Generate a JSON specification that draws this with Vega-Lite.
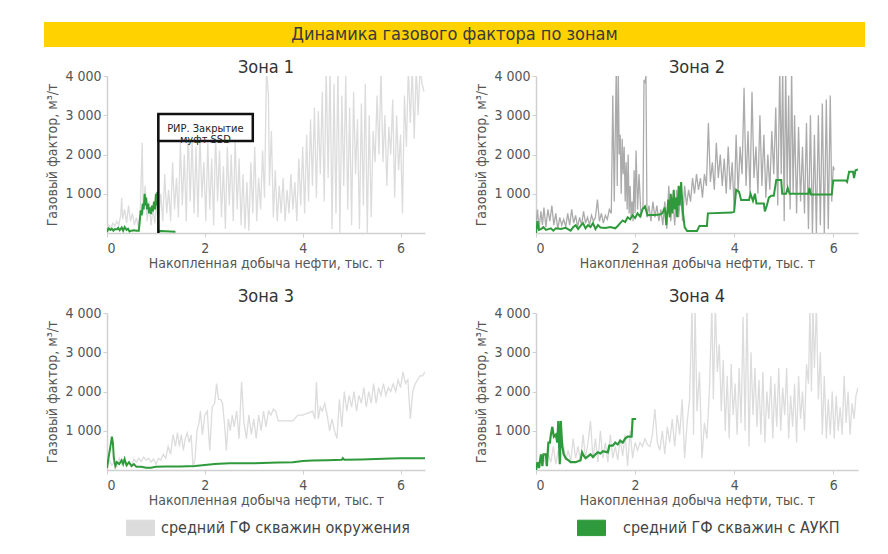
{
"$schema":"https://vega.github.io/schema/vega-lite/v6.json",
"background":"white",
"padding":{"left":44,"top":22,"right":5,"bottom":5},
"config":{
 "font":"DejaVu Sans Condensed, Roboto, sans-serif",
 "view":{"stroke":null},
 "axis":{"grid":false,"labelFontSize":14,"labelColor":"#555","titleFontSize":14,"titleFontWeight":"normal","titleColor":"#555","tickColor":"#d0d0d0","domainColor":"#d0d0d0","tickSize":4,"domainWidth":1.5,"labelPadding":2},
 "axisX":{"titlePadding":1,"labelPadding":4},
 "axisY":{"titlePadding":5},
 "title":{"fontSize":18,"fontWeight":"normal","color":"#333","frame":"group","offset":-8},
 "legend":{"orient":"none","legendX":82,"legendY":491,"direction":"horizontal","title":null,"labelFontSize":16,"labelColor":"#444","labelOffset":17,"columnPadding":165,"labelLimit":400,"symbolType":"M-1,-0.55H1V0.55H-1Z","symbolSize":784,"symbolStrokeWidth":1}
},
"datasets":{
"z1o":[{"x":0,"y":150},{"x":0.04,"y":200},{"x":0.08,"y":120},{"x":0.12,"y":250},{"x":0.16,"y":180},{"x":0.2,"y":300},{"x":0.24,"y":200},{"x":0.28,"y":450},{"x":0.3,"y":900},{"x":0.32,"y":350},{"x":0.36,"y":600},{"x":0.4,"y":250},{"x":0.44,"y":700},{"x":0.48,"y":300},{"x":0.52,"y":500},{"x":0.56,"y":200},{"x":0.6,"y":400},{"x":0.64,"y":150},{"x":0.68,"y":600},{"x":0.72,"y":2300},{"x":0.74,"y":500},{"x":0.78,"y":1200},{"x":0.82,"y":300},{"x":0.86,"y":800},{"x":0.9,"y":200},{"x":0.94,"y":600},{"x":0.98,"y":250},{"x":1.02,"y":900},{"x":1.06,"y":400},{"x":1.1,"y":1000},{"x":1.14,"y":300},{"x":1.18,"y":1500},{"x":1.22,"y":500},{"x":1.26,"y":1100},{"x":1.3,"y":300},{"x":1.34,"y":1800},{"x":1.38,"y":600},{"x":1.42,"y":1400},{"x":1.46,"y":400},{"x":1.5,"y":2300},{"x":1.54,"y":700},{"x":1.58,"y":2000},{"x":1.62,"y":300},{"x":1.66,"y":2600},{"x":1.7,"y":800},{"x":1.74,"y":2400},{"x":1.78,"y":500},{"x":1.82,"y":2200},{"x":1.86,"y":400},{"x":1.9,"y":2500},{"x":1.94,"y":900},{"x":1.98,"y":1800},{"x":2.02,"y":300},{"x":2.06,"y":2300},{"x":2.1,"y":600},{"x":2.14,"y":1900},{"x":2.18,"y":200},{"x":2.22,"y":2500},{"x":2.26,"y":800},{"x":2.3,"y":2100},{"x":2.34,"y":400},{"x":2.38,"y":1700},{"x":2.42,"y":100},{"x":2.46,"y":2200},{"x":2.5,"y":700},{"x":2.54,"y":2000},{"x":2.58,"y":300},{"x":2.62,"y":2400},{"x":2.66,"y":600},{"x":2.7,"y":1900},{"x":2.74,"y":200},{"x":2.78,"y":1500},{"x":2.82,"y":100},{"x":2.86,"y":1300},{"x":2.9,"y":50},{"x":2.94,"y":1800},{"x":2.98,"y":500},{"x":3.02,"y":2200},{"x":3.06,"y":300},{"x":3.1,"y":1400},{"x":3.14,"y":600},{"x":3.18,"y":2100},{"x":3.22,"y":900},{"x":3.26,"y":4200},{"x":3.3,"y":3500},{"x":3.32,"y":1200},{"x":3.36,"y":2600},{"x":3.4,"y":400},{"x":3.44,"y":1600},{"x":3.48,"y":300},{"x":3.52,"y":1200},{"x":3.56,"y":500},{"x":3.6,"y":1400},{"x":3.64,"y":300},{"x":3.68,"y":1100},{"x":3.72,"y":500},{"x":3.76,"y":1500},{"x":3.8,"y":600},{"x":3.84,"y":1300},{"x":3.88,"y":300},{"x":3.92,"y":1900},{"x":3.96,"y":700},{"x":4.0,"y":2200},{"x":4.04,"y":500},{"x":4.08,"y":2500},{"x":4.12,"y":800},{"x":4.16,"y":2900},{"x":4.2,"y":1200},{"x":4.24,"y":3200},{"x":4.28,"y":900},{"x":4.32,"y":3100},{"x":4.36,"y":1500},{"x":4.4,"y":3600},{"x":4.44,"y":800},{"x":4.48,"y":4200},{"x":4.52,"y":1400},{"x":4.56,"y":4200},{"x":4.6,"y":100},{"x":4.64,"y":3800},{"x":4.68,"y":500},{"x":4.72,"y":4200},{"x":4.76,"y":0},{"x":4.8,"y":3500},{"x":4.84,"y":1200},{"x":4.88,"y":4000},{"x":4.92,"y":600},{"x":4.96,"y":3200},{"x":5.0,"y":200},{"x":5.04,"y":3600},{"x":5.08,"y":1500},{"x":5.12,"y":2900},{"x":5.16,"y":100},{"x":5.2,"y":3300},{"x":5.24,"y":700},{"x":5.28,"y":3800},{"x":5.32,"y":0},{"x":5.36,"y":3000},{"x":5.4,"y":400},{"x":5.44,"y":2600},{"x":5.48,"y":1800},{"x":5.52,"y":3500},{"x":5.56,"y":2000},{"x":5.6,"y":4200},{"x":5.64,"y":1800},{"x":5.68,"y":3000},{"x":5.72,"y":1200},{"x":5.76,"y":2700},{"x":5.8,"y":2000},{"x":5.84,"y":3400},{"x":5.88,"y":900},{"x":5.92,"y":3000},{"x":5.96,"y":1600},{"x":6.0,"y":2500},{"x":6.04,"y":500},{"x":6.08,"y":3500},{"x":6.12,"y":2200},{"x":6.16,"y":4200},{"x":6.2,"y":2800},{"x":6.24,"y":4200},{"x":6.28,"y":2400},{"x":6.32,"y":4200},{"x":6.36,"y":3000},{"x":6.4,"y":4200},{"x":6.44,"y":3800},{"x":6.48,"y":3600}],
"z1a":[{"x":0,"y":30},{"x":0.03,"y":120},{"x":0.07,"y":80},{"x":0.1,"y":110},{"x":0.13,"y":60},{"x":0.16,"y":100},{"x":0.2,"y":90},{"x":0.23,"y":130},{"x":0.26,"y":70},{"x":0.3,"y":140},{"x":0.33,"y":60},{"x":0.36,"y":150},{"x":0.4,"y":80},{"x":0.43,"y":110},{"x":0.46,"y":40},{"x":0.5,"y":60},{"x":0.55,"y":70},{"x":0.6,"y":60},{"x":0.65,"y":60},{"x":0.67,"y":300},{"x":0.69,"y":580},{"x":0.71,"y":450},{"x":0.73,"y":750},{"x":0.75,"y":600},{"x":0.77,"y":1000},{"x":0.79,"y":700},{"x":0.8,"y":900},{"x":0.82,"y":600},{"x":0.84,"y":750},{"x":0.86,"y":500},{"x":0.88,"y":650},{"x":0.9,"y":480},{"x":0.92,"y":700},{"x":0.94,"y":550},{"x":0.96,"y":800},{"x":0.98,"y":600},{"x":1.0,"y":1000},{"x":1.02,"y":700},{"x":1.03,"y":1050},{"x":1.05,"y":40},{"x":1.1,"y":50},{"x":1.2,"y":45},{"x":1.3,"y":40},{"x":1.4,"y":35}],
"z2o":[{"x":0,"y":200},{"x":0.03,"y":600},{"x":0.06,"y":100},{"x":0.1,"y":550},{"x":0.13,"y":200},{"x":0.16,"y":650},{"x":0.2,"y":150},{"x":0.24,"y":600},{"x":0.28,"y":300},{"x":0.32,"y":700},{"x":0.36,"y":200},{"x":0.4,"y":500},{"x":0.44,"y":100},{"x":0.48,"y":400},{"x":0.52,"y":200},{"x":0.56,"y":350},{"x":0.6,"y":150},{"x":0.64,"y":500},{"x":0.68,"y":200},{"x":0.72,"y":600},{"x":0.76,"y":250},{"x":0.8,"y":450},{"x":0.84,"y":150},{"x":0.88,"y":400},{"x":0.92,"y":200},{"x":0.96,"y":550},{"x":1.0,"y":250},{"x":1.04,"y":400},{"x":1.08,"y":200},{"x":1.12,"y":450},{"x":1.16,"y":300},{"x":1.2,"y":400},{"x":1.24,"y":850},{"x":1.28,"y":300},{"x":1.32,"y":500},{"x":1.36,"y":250},{"x":1.4,"y":450},{"x":1.44,"y":350},{"x":1.48,"y":600},{"x":1.52,"y":500},{"x":1.55,"y":3500},{"x":1.58,"y":800},{"x":1.62,"y":4200},{"x":1.64,"y":1200},{"x":1.66,"y":4200},{"x":1.68,"y":2000},{"x":1.7,"y":2500},{"x":1.72,"y":1000},{"x":1.74,"y":2400},{"x":1.76,"y":1500},{"x":1.78,"y":2200},{"x":1.8,"y":800},{"x":1.82,"y":1800},{"x":1.84,"y":600},{"x":1.86,"y":2000},{"x":1.88,"y":500},{"x":1.9,"y":1200},{"x":1.92,"y":400},{"x":1.94,"y":800},{"x":1.96,"y":300},{"x":1.98,"y":1600},{"x":2.0,"y":500},{"x":2.02,"y":2100},{"x":2.05,"y":600},{"x":2.08,"y":1500},{"x":2.12,"y":400},{"x":2.16,"y":700},{"x":2.18,"y":3900},{"x":2.2,"y":3850},{"x":2.22,"y":4000},{"x":2.24,"y":400},{"x":2.28,"y":700},{"x":2.32,"y":300},{"x":2.36,"y":800},{"x":2.4,"y":400},{"x":2.44,"y":700},{"x":2.48,"y":300},{"x":2.52,"y":600},{"x":2.56,"y":200},{"x":2.6,"y":800},{"x":2.64,"y":100},{"x":2.68,"y":1200},{"x":2.72,"y":300},{"x":2.76,"y":900},{"x":2.8,"y":200},{"x":2.84,"y":1100},{"x":2.88,"y":400},{"x":2.92,"y":1000},{"x":2.96,"y":300},{"x":3.0,"y":1200},{"x":3.04,"y":700},{"x":3.08,"y":1100},{"x":3.12,"y":800},{"x":3.16,"y":1400},{"x":3.2,"y":1000},{"x":3.24,"y":1500},{"x":3.28,"y":1100},{"x":3.32,"y":1400},{"x":3.36,"y":900},{"x":3.4,"y":1500},{"x":3.44,"y":1200},{"x":3.48,"y":2800},{"x":3.52,"y":1300},{"x":3.56,"y":1800},{"x":3.6,"y":1100},{"x":3.64,"y":2300},{"x":3.68,"y":1400},{"x":3.72,"y":2000},{"x":3.76,"y":1200},{"x":3.8,"y":1900},{"x":3.84,"y":1000},{"x":3.88,"y":2200},{"x":3.92,"y":1100},{"x":3.96,"y":1800},{"x":4.0,"y":600},{"x":4.04,"y":2500},{"x":4.08,"y":1000},{"x":4.12,"y":2200},{"x":4.16,"y":1500},{"x":4.2,"y":3700},{"x":4.24,"y":1200},{"x":4.28,"y":2600},{"x":4.32,"y":1000},{"x":4.36,"y":3600},{"x":4.4,"y":1400},{"x":4.44,"y":2200},{"x":4.48,"y":1000},{"x":4.52,"y":3000},{"x":4.56,"y":1200},{"x":4.6,"y":2500},{"x":4.64,"y":900},{"x":4.68,"y":2000},{"x":4.72,"y":1100},{"x":4.76,"y":2600},{"x":4.8,"y":1500},{"x":4.84,"y":3200},{"x":4.88,"y":700},{"x":4.92,"y":4200},{"x":4.95,"y":1500},{"x":4.98,"y":4200},{"x":5.01,"y":300},{"x":5.04,"y":4200},{"x":5.07,"y":1200},{"x":5.1,"y":3500},{"x":5.13,"y":600},{"x":5.16,"y":4200},{"x":5.19,"y":1000},{"x":5.22,"y":3000},{"x":5.26,"y":500},{"x":5.3,"y":2700},{"x":5.34,"y":800},{"x":5.38,"y":2200},{"x":5.42,"y":500},{"x":5.46,"y":2800},{"x":5.5,"y":100},{"x":5.54,"y":3000},{"x":5.58,"y":0},{"x":5.62,"y":2500},{"x":5.66,"y":0},{"x":5.7,"y":3000},{"x":5.74,"y":200},{"x":5.78,"y":3300},{"x":5.82,"y":0},{"x":5.86,"y":3400},{"x":5.9,"y":100},{"x":5.94,"y":3500},{"x":5.97,"y":800},{"x":6.0,"y":1700},{"x":6.02,"y":1600}],
"z2a":[{"x":0,"y":0},{"x":0.03,"y":300},{"x":0.06,"y":80},{"x":0.1,"y":100},{"x":0.15,"y":150},{"x":0.2,"y":80},{"x":0.3,"y":120},{"x":0.35,"y":60},{"x":0.4,"y":120},{"x":0.5,"y":100},{"x":0.6,"y":130},{"x":0.7,"y":60},{"x":0.75,"y":150},{"x":0.8,"y":200},{"x":0.85,"y":100},{"x":0.9,"y":180},{"x":0.95,"y":250},{"x":1.0,"y":120},{"x":1.05,"y":200},{"x":1.1,"y":150},{"x":1.15,"y":250},{"x":1.2,"y":100},{"x":1.25,"y":200},{"x":1.3,"y":140},{"x":1.4,"y":130},{"x":1.5,"y":150},{"x":1.6,"y":120},{"x":1.65,"y":180},{"x":1.7,"y":250},{"x":1.75,"y":320},{"x":1.8,"y":280},{"x":1.85,"y":400},{"x":1.9,"y":350},{"x":1.95,"y":450},{"x":2.0,"y":380},{"x":2.05,"y":500},{"x":2.1,"y":420},{"x":2.15,"y":600},{"x":2.2,"y":680},{"x":2.25,"y":450},{"x":2.3,"y":460},{"x":2.4,"y":460},{"x":2.5,"y":470},{"x":2.55,"y":500},{"x":2.6,"y":650},{"x":2.63,"y":200},{"x":2.67,"y":850},{"x":2.7,"y":400},{"x":2.72,"y":1000},{"x":2.75,"y":500},{"x":2.78,"y":1100},{"x":2.8,"y":600},{"x":2.83,"y":900},{"x":2.85,"y":400},{"x":2.88,"y":1200},{"x":2.9,"y":700},{"x":2.93,"y":1300},{"x":2.96,"y":600},{"x":3.0,"y":150},{"x":3.05,"y":50},{"x":3.25,"y":50},{"x":3.3,"y":180},{"x":3.45,"y":180},{"x":3.47,"y":500},{"x":3.95,"y":520},{"x":4.0,"y":540},{"x":4.04,"y":1100},{"x":4.1,"y":1050},{"x":4.14,"y":840},{"x":4.3,"y":840},{"x":4.33,"y":1000},{"x":4.38,"y":820},{"x":4.42,"y":1000},{"x":4.45,"y":750},{"x":4.6,"y":750},{"x":4.62,"y":550},{"x":4.66,"y":700},{"x":4.7,"y":900},{"x":4.75,"y":950},{"x":4.8,"y":950},{"x":4.85,"y":1350},{"x":4.95,"y":1350},{"x":4.97,"y":1000},{"x":5.05,"y":1000},{"x":5.08,"y":1150},{"x":5.12,"y":1000},{"x":5.5,"y":1000},{"x":5.52,"y":1150},{"x":5.55,"y":980},{"x":5.97,"y":980},{"x":6.0,"y":1340},{"x":6.25,"y":1340},{"x":6.28,"y":1300},{"x":6.32,"y":1560},{"x":6.4,"y":1560},{"x":6.42,"y":1400},{"x":6.45,"y":1600},{"x":6.5,"y":1620}],
"z3o":[{"x":0,"y":100},{"x":0.05,"y":250},{"x":0.1,"y":120},{"x":0.15,"y":200},{"x":0.2,"y":80},{"x":0.25,"y":300},{"x":0.3,"y":150},{"x":0.35,"y":250},{"x":0.4,"y":100},{"x":0.45,"y":200},{"x":0.5,"y":120},{"x":0.55,"y":280},{"x":0.6,"y":200},{"x":0.65,"y":300},{"x":0.7,"y":220},{"x":0.75,"y":330},{"x":0.8,"y":250},{"x":0.85,"y":300},{"x":0.9,"y":200},{"x":0.95,"y":280},{"x":1.0,"y":150},{"x":1.05,"y":300},{"x":1.1,"y":250},{"x":1.15,"y":400},{"x":1.2,"y":300},{"x":1.25,"y":600},{"x":1.3,"y":400},{"x":1.35,"y":900},{"x":1.4,"y":600},{"x":1.44,"y":950},{"x":1.48,"y":600},{"x":1.52,"y":900},{"x":1.56,"y":500},{"x":1.6,"y":800},{"x":1.64,"y":950},{"x":1.68,"y":700},{"x":1.72,"y":900},{"x":1.76,"y":50},{"x":1.8,"y":300},{"x":1.84,"y":1000},{"x":1.88,"y":1200},{"x":1.91,"y":1500},{"x":1.95,"y":900},{"x":2.0,"y":1400},{"x":2.05,"y":1500},{"x":2.1,"y":500},{"x":2.15,"y":1600},{"x":2.2,"y":1700},{"x":2.24,"y":2200},{"x":2.28,"y":1800},{"x":2.32,"y":1800},{"x":2.36,"y":1700},{"x":2.4,"y":1200},{"x":2.44,"y":500},{"x":2.48,"y":1300},{"x":2.52,"y":1000},{"x":2.56,"y":1400},{"x":2.6,"y":1100},{"x":2.65,"y":1500},{"x":2.7,"y":800},{"x":2.75,"y":2250},{"x":2.8,"y":1200},{"x":2.85,"y":800},{"x":2.9,"y":1400},{"x":2.95,"y":900},{"x":3.0,"y":1300},{"x":3.05,"y":800},{"x":3.1,"y":1400},{"x":3.15,"y":1000},{"x":3.2,"y":1500},{"x":3.25,"y":1100},{"x":3.3,"y":1500},{"x":3.35,"y":1400},{"x":3.4,"y":1550},{"x":3.45,"y":1500},{"x":3.5,"y":1250},{"x":3.6,"y":1250},{"x":3.7,"y":1250},{"x":3.8,"y":1250},{"x":3.9,"y":1400},{"x":4.0,"y":1400},{"x":4.1,"y":1450},{"x":4.2,"y":1500},{"x":4.25,"y":1300},{"x":4.28,"y":2250},{"x":4.32,"y":1300},{"x":4.36,"y":1600},{"x":4.4,"y":1500},{"x":4.45,"y":1700},{"x":4.5,"y":1400},{"x":4.55,"y":1000},{"x":4.6,"y":1300},{"x":4.65,"y":1000},{"x":4.7,"y":800},{"x":4.75,"y":1800},{"x":4.8,"y":1100},{"x":4.85,"y":2000},{"x":4.9,"y":1500},{"x":4.95,"y":1900},{"x":5.0,"y":1600},{"x":5.05,"y":2000},{"x":5.1,"y":1500},{"x":5.15,"y":1900},{"x":5.2,"y":1700},{"x":5.25,"y":2100},{"x":5.3,"y":1600},{"x":5.35,"y":2000},{"x":5.4,"y":1700},{"x":5.45,"y":2200},{"x":5.5,"y":1700},{"x":5.55,"y":2100},{"x":5.6,"y":1900},{"x":5.65,"y":2200},{"x":5.7,"y":1900},{"x":5.75,"y":2100},{"x":5.8,"y":2000},{"x":5.85,"y":2200},{"x":5.9,"y":2000},{"x":5.95,"y":2300},{"x":6.0,"y":2100},{"x":6.05,"y":2500},{"x":6.1,"y":2200},{"x":6.15,"y":2300},{"x":6.2,"y":1300},{"x":6.25,"y":2000},{"x":6.3,"y":2200},{"x":6.35,"y":2300},{"x":6.4,"y":2400},{"x":6.45,"y":2400},{"x":6.5,"y":2500}],
"z3a":[{"x":0,"y":50},{"x":0.03,"y":300},{"x":0.07,"y":600},{"x":0.1,"y":850},{"x":0.12,"y":700},{"x":0.14,"y":300},{"x":0.17,"y":100},{"x":0.2,"y":200},{"x":0.25,"y":150},{"x":0.3,"y":250},{"x":0.33,"y":150},{"x":0.36,"y":280},{"x":0.4,"y":120},{"x":0.45,"y":200},{"x":0.5,"y":100},{"x":0.55,"y":150},{"x":0.6,"y":80},{"x":0.7,"y":80},{"x":0.8,"y":60},{"x":0.9,"y":60},{"x":1.0,"y":80},{"x":1.2,"y":90},{"x":1.5,"y":90},{"x":1.8,"y":100},{"x":2.0,"y":130},{"x":2.2,"y":150},{"x":2.5,"y":170},{"x":3.0,"y":170},{"x":3.5,"y":190},{"x":3.8,"y":200},{"x":4.0,"y":230},{"x":4.2,"y":240},{"x":4.5,"y":250},{"x":4.8,"y":260},{"x":4.82,"y":300},{"x":4.85,"y":260},{"x":5.2,"y":270},{"x":5.5,"y":280},{"x":5.8,"y":290},{"x":6.0,"y":300},{"x":6.5,"y":300}],
"z4o":[{"x":0,"y":50},{"x":0.05,"y":200},{"x":0.1,"y":100},{"x":0.15,"y":300},{"x":0.2,"y":150},{"x":0.25,"y":400},{"x":0.3,"y":200},{"x":0.35,"y":600},{"x":0.4,"y":150},{"x":0.45,"y":500},{"x":0.5,"y":200},{"x":0.55,"y":700},{"x":0.6,"y":250},{"x":0.65,"y":500},{"x":0.7,"y":200},{"x":0.75,"y":800},{"x":0.8,"y":300},{"x":0.85,"y":600},{"x":0.9,"y":200},{"x":0.95,"y":900},{"x":1.0,"y":300},{"x":1.05,"y":700},{"x":1.1,"y":1250},{"x":1.15,"y":300},{"x":1.2,"y":800},{"x":1.25,"y":200},{"x":1.3,"y":1000},{"x":1.35,"y":300},{"x":1.4,"y":700},{"x":1.45,"y":200},{"x":1.5,"y":900},{"x":1.55,"y":300},{"x":1.6,"y":600},{"x":1.65,"y":250},{"x":1.7,"y":800},{"x":1.75,"y":350},{"x":1.8,"y":900},{"x":1.85,"y":100},{"x":1.9,"y":1000},{"x":1.95,"y":300},{"x":2.0,"y":700},{"x":2.05,"y":500},{"x":2.1,"y":700},{"x":2.15,"y":600},{"x":2.2,"y":800},{"x":2.25,"y":650},{"x":2.3,"y":600},{"x":2.35,"y":900},{"x":2.4,"y":1550},{"x":2.45,"y":700},{"x":2.5,"y":500},{"x":2.55,"y":1000},{"x":2.6,"y":400},{"x":2.65,"y":1100},{"x":2.7,"y":700},{"x":2.75,"y":1300},{"x":2.8,"y":600},{"x":2.85,"y":1400},{"x":2.9,"y":900},{"x":2.95,"y":1800},{"x":3.0,"y":300},{"x":3.05,"y":1200},{"x":3.1,"y":1800},{"x":3.15,"y":4200},{"x":3.18,"y":900},{"x":3.21,"y":4200},{"x":3.25,"y":1500},{"x":3.3,"y":2500},{"x":3.35,"y":300},{"x":3.4,"y":1200},{"x":3.45,"y":800},{"x":3.5,"y":2000},{"x":3.55,"y":4200},{"x":3.58,"y":1800},{"x":3.62,"y":4200},{"x":3.66,"y":2500},{"x":3.7,"y":3200},{"x":3.74,"y":1500},{"x":3.78,"y":2800},{"x":3.82,"y":1000},{"x":3.86,"y":2400},{"x":3.9,"y":800},{"x":3.94,"y":2700},{"x":3.98,"y":1400},{"x":4.02,"y":2200},{"x":4.06,"y":900},{"x":4.1,"y":2600},{"x":4.14,"y":1200},{"x":4.18,"y":3900},{"x":4.22,"y":1000},{"x":4.26,"y":4200},{"x":4.3,"y":600},{"x":4.34,"y":3000},{"x":4.38,"y":1400},{"x":4.42,"y":2600},{"x":4.46,"y":1100},{"x":4.5,"y":2300},{"x":4.54,"y":900},{"x":4.58,"y":2500},{"x":4.62,"y":700},{"x":4.66,"y":2000},{"x":4.7,"y":1300},{"x":4.74,"y":2400},{"x":4.78,"y":800},{"x":4.82,"y":2200},{"x":4.86,"y":1100},{"x":4.9,"y":2600},{"x":4.94,"y":1000},{"x":4.98,"y":2100},{"x":5.02,"y":1400},{"x":5.06,"y":2600},{"x":5.1,"y":800},{"x":5.14,"y":1900},{"x":5.18,"y":1100},{"x":5.22,"y":2200},{"x":5.26,"y":700},{"x":5.3,"y":2400},{"x":5.34,"y":1300},{"x":5.38,"y":2000},{"x":5.42,"y":1000},{"x":5.46,"y":2700},{"x":5.5,"y":2200},{"x":5.53,"y":4200},{"x":5.56,"y":2000},{"x":5.59,"y":4200},{"x":5.62,"y":2600},{"x":5.66,"y":4200},{"x":5.7,"y":1800},{"x":5.74,"y":3000},{"x":5.78,"y":900},{"x":5.82,"y":2400},{"x":5.86,"y":800},{"x":5.9,"y":1800},{"x":5.94,"y":900},{"x":5.98,"y":2000},{"x":6.02,"y":800},{"x":6.06,"y":1900},{"x":6.1,"y":1000},{"x":6.14,"y":1600},{"x":6.18,"y":900},{"x":6.22,"y":2400},{"x":6.26,"y":1200},{"x":6.3,"y":2000},{"x":6.34,"y":900},{"x":6.38,"y":1700},{"x":6.42,"y":1300},{"x":6.46,"y":1900},{"x":6.5,"y":2100}],
"z4a":[{"x":0,"y":0},{"x":0.03,"y":200},{"x":0.06,"y":50},{"x":0.1,"y":400},{"x":0.13,"y":100},{"x":0.15,"y":400},{"x":0.2,"y":400},{"x":0.22,"y":100},{"x":0.25,"y":700},{"x":0.28,"y":700},{"x":0.3,"y":900},{"x":0.33,"y":1100},{"x":0.36,"y":850},{"x":0.4,"y":900},{"x":0.43,"y":700},{"x":0.45,"y":1250},{"x":0.48,"y":150},{"x":0.5,"y":1250},{"x":0.53,"y":600},{"x":0.56,"y":400},{"x":0.6,"y":300},{"x":0.65,"y":250},{"x":0.7,"y":200},{"x":0.8,"y":200},{"x":0.9,"y":250},{"x":0.93,"y":450},{"x":0.97,"y":350},{"x":1.0,"y":300},{"x":1.05,"y":350},{"x":1.1,"y":400},{"x":1.15,"y":330},{"x":1.2,"y":400},{"x":1.25,"y":450},{"x":1.3,"y":420},{"x":1.35,"y":480},{"x":1.45,"y":450},{"x":1.48,"y":620},{"x":1.55,"y":620},{"x":1.6,"y":700},{"x":1.65,"y":650},{"x":1.7,"y":750},{"x":1.75,"y":700},{"x":1.8,"y":800},{"x":1.85,"y":850},{"x":1.93,"y":850},{"x":1.95,"y":1300},{"x":2.0,"y":1300},{"x":2.02,"y":1300}],
"ann":[{"x":1.05,"x2":2.98,"y0":0,"y":2344,"y2":3032,"xm":2.01,"ym":2810,"t":"РИР. Закрытие\nмуфт SSD"}]
},
"concat":[
{"width":821,"height":25,"view":{"fill":"#FFD200","stroke":null},
 "data":{"values":[{"t":"Динамика газового фактора по зонам"}]},
 "mark":{"type":"text","fontSize":18,"color":"#3a3a3a"},
 "encoding":{"text":{"field":"t","type":"nominal"}}},
{"spacing":0,"hconcat":[
 {"width":1,"height":1,"data":{"values":[{"t":""}]},"mark":{"type":"text"},"encoding":{"text":{"field":"t","type":"nominal"}}},
 {"spacing":18,"vconcat":[
 {"spacing":49,"hconcat":[
  {"width":318,"height":157,"title":"Зона 1","layer":[
   {"data":{"name":"z1o"},"mark":{"type":"line","clip":true,"strokeWidth":1.3},
    "encoding":{"x":{"field":"x","type":"quantitative","title":"Накопленная добыча нефти, тыс. т","scale":{"domain":[0,6.5],"nice":false},"axis":{"values":[0,2,4,6]}},
     "y":{"field":"y","type":"quantitative","title":"Газовый фактор, м³/т","scale":{"domain":[0,4000],"nice":false},"axis":{"values":[1000,2000,3000,4000],"labelExpr":"replace(format(datum.value, ','), ',', ' ')"}},
     "color":{"datum":"средний ГФ скважин окружения","type":"nominal","scale":{"domain":["средний ГФ скважин окружения","средний ГФ скважин с АУКП"],"range":["#dcdcdc","#2f9a3c"]},
      "legend":{"labelLimit":400,"encode":{"symbols":{"update":{"fill":{"scale":"color","field":"value"},"fillOpacity":{"value":1}}},"labels":{"update":{"dx":{"signal":"datum.index === 0 ? -11 : 0"}}}}}}}},
   {"data":{"name":"z1a"},"mark":{"type":"line","clip":true,"strokeWidth":2},"encoding":{"x":{"field":"x","type":"quantitative"},"y":{"field":"y","type":"quantitative"},"color":{"datum":"средний ГФ скважин с АУКП","type":"nominal"}}},
   {"data":{"name":"ann"},"mark":{"type":"rule","color":"#111","strokeWidth":2.5},"encoding":{"x":{"field":"x","type":"quantitative"},"y":{"field":"y0","type":"quantitative"},"y2":{"field":"y2"}}},
   {"data":{"name":"ann"},"mark":{"type":"rect","fill":"white","stroke":"#111","strokeWidth":2.5},"encoding":{"x":{"field":"x","type":"quantitative"},"x2":{"field":"x2"},"y":{"field":"y","type":"quantitative"},"y2":{"field":"y2"}}},
   {"data":{"name":"ann"},"mark":{"type":"text","fontSize":11,"color":"#222","lineBreak":"\n","lineHeight":11,"baseline":"top"},"encoding":{"x":{"field":"xm","type":"quantitative"},"y":{"field":"ym","type":"quantitative"},"text":{"field":"t","type":"nominal"}}}
  ]},
  {"width":322,"height":157,"title":"Зона 2","layer":[
   {"data":{"name":"z2o"},"mark":{"type":"line","clip":true,"strokeWidth":1.3,"color":"#ababab"},
    "encoding":{"x":{"field":"x","type":"quantitative","title":"Накопленная добыча нефти, тыс. т","scale":{"domain":[0,6.5],"nice":false},"axis":{"values":[0,2,4,6]}},
     "y":{"field":"y","type":"quantitative","title":"Газовый фактор, м³/т","scale":{"domain":[0,4000],"nice":false},"axis":{"values":[1000,2000,3000,4000],"labelExpr":"replace(format(datum.value, ','), ',', ' ')"}}}},
   {"data":{"name":"z2a"},"mark":{"type":"line","clip":true,"strokeWidth":2},"encoding":{"x":{"field":"x","type":"quantitative"},"y":{"field":"y","type":"quantitative"},"color":{"datum":"средний ГФ скважин с АУКП","type":"nominal"}}}
  ]}
 ]},
 {"spacing":49,"hconcat":[
  {"width":318,"height":157,"title":{"text":"Зона 3","offset":0},"layer":[
   {"data":{"name":"z3o"},"mark":{"type":"line","clip":true,"strokeWidth":1.3},
    "encoding":{"x":{"field":"x","type":"quantitative","title":"Накопленная добыча нефти, тыс. т","scale":{"domain":[0,6.5],"nice":false},"axis":{"values":[0,2,4,6]}},
     "y":{"field":"y","type":"quantitative","title":"Газовый фактор, м³/т","scale":{"domain":[0,4000],"nice":false},"axis":{"values":[1000,2000,3000,4000],"labelExpr":"replace(format(datum.value, ','), ',', ' ')"}},
     "color":{"datum":"средний ГФ скважин окружения","type":"nominal"}}},
   {"data":{"name":"z3a"},"mark":{"type":"line","clip":true,"strokeWidth":2},"encoding":{"x":{"field":"x","type":"quantitative"},"y":{"field":"y","type":"quantitative"},"color":{"datum":"средний ГФ скважин с АУКП","type":"nominal"}}}
  ]},
  {"width":322,"height":157,"title":{"text":"Зона 4","offset":0},"layer":[
   {"data":{"name":"z4o"},"mark":{"type":"line","clip":true,"strokeWidth":1.3},
    "encoding":{"x":{"field":"x","type":"quantitative","title":"Накопленная добыча нефти, тыс. т","scale":{"domain":[0,6.5],"nice":false},"axis":{"values":[0,2,4,6]}},
     "y":{"field":"y","type":"quantitative","title":"Газовый фактор, м³/т","scale":{"domain":[0,4000],"nice":false},"axis":{"values":[1000,2000,3000,4000],"labelExpr":"replace(format(datum.value, ','), ',', ' ')"}},
     "color":{"datum":"средний ГФ скважин окружения","type":"nominal"}}},
   {"data":{"name":"z4a"},"mark":{"type":"line","clip":true,"strokeWidth":2.2},"encoding":{"x":{"field":"x","type":"quantitative"},"y":{"field":"y","type":"quantitative"},"color":{"datum":"средний ГФ скважин с АУКП","type":"nominal"}}}
  ]}
 ]}
 ]}
]}
],
"columns":1,
"spacing":12
}
